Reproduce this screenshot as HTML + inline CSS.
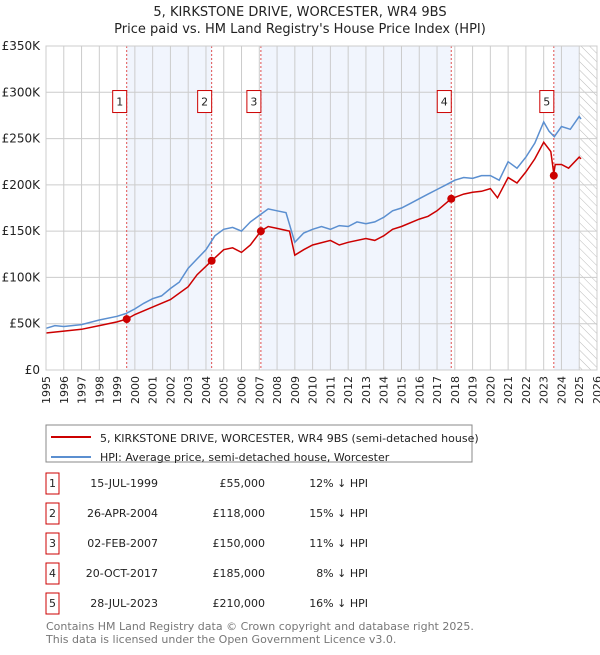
<!DOCTYPE html>
<html><head><meta charset="utf-8"><style>
body{margin:0;background:#fff;font-family:"Liberation Sans","DejaVu Sans",sans-serif;}
svg text{font-family:"DejaVu Sans","Liberation Sans",sans-serif;}
</style></head><body>
<svg id="chart" width="600" height="650" xmlns="http://www.w3.org/2000/svg">
<defs><pattern id="hatch" width="6" height="6" patternUnits="userSpaceOnUse" patternTransform="rotate(-45)"><line x1="0" y1="0" x2="0" y2="6" stroke="#bbb" stroke-width="1"/></pattern></defs>
<text x="300" y="16" text-anchor="middle" font-size="13" fill="#222">5, KIRKSTONE DRIVE, WORCESTER, WR4 9BS</text>
<text x="300" y="33" text-anchor="middle" font-size="13" fill="#222">Price paid vs. HM Land Registry's House Price Index (HPI)</text>
<g id="plot"></g>
<rect x="46" y="425" width="426" height="37" fill="#fff" stroke="#888"/>
<line x1="51" y1="437" x2="91" y2="437" stroke="#cc0000" stroke-width="2"/>
<text x="100" y="442" font-size="11" fill="#222">5, KIRKSTONE DRIVE, WORCESTER, WR4 9BS (semi-detached house)</text>
<line x1="51" y1="457" x2="91" y2="457" stroke="#5b8fd0" stroke-width="2"/>
<text x="100" y="461" font-size="11" fill="#222">HPI: Average price, semi-detached house, Worcester</text>
<g id="table"></g>
<text x="46" y="630" font-size="11" fill="#777">Contains HM Land Registry data © Crown copyright and database right 2025.</text>
<text x="46" y="643" font-size="11" fill="#777">This data is licensed under the Open Government Licence v3.0.</text>
</svg>
<script>
const hpiYears=[1995,1995.5,1996,1997,1998,1999,1999.5,2000,2000.5,2001,2001.5,2002,2002.5,2003,2003.5,2004,2004.5,2005,2005.5,2006,2006.5,2007,2007.5,2008,2008.5,2009,2009.5,2010,2010.5,2011,2011.5,2012,2012.5,2013,2013.5,2014,2014.5,2015,2015.5,2016,2016.5,2017,2017.5,2018,2018.5,2019,2019.5,2020,2020.5,2021,2021.5,2022,2022.5,2023,2023.3,2023.6,2024,2024.5,2025,2025.1];
const hpiValues=[45,48,47,49,54,58,61,66,72,77,80,88,95,110,120,130,145,152,154,150,160,167,174,172,170,138,148,152,155,152,156,155,160,158,160,165,172,175,180,185,190,195,200,205,208,207,210,210,205,225,218,230,245,268,258,252,263,260,274,271];
const propYears=[1995,1996,1997,1998,1999,1999.54,2000,2001,2002,2003,2003.5,2004.32,2005,2005.5,2006,2006.5,2007.09,2007.5,2008,2008.7,2009,2009.5,2010,2011,2011.5,2012,2013,2013.5,2014,2014.5,2015,2016,2016.5,2017,2017.8,2018.5,2019,2019.5,2020,2020.4,2021,2021.5,2022,2022.5,2023,2023.4,2023.57,2023.65,2024,2024.4,2025,2025.1];
const propValues=[40,42,44,48,52,55,60,68,76,90,103,118,130,132,127,135,150,155,153,150,124,130,135,140,135,138,142,140,145,152,155,163,166,172,185,190,192,193,196,186,208,202,214,228,246,236,212,222,222,218,230,228];
const saleLabels=["1","2","3","4","5"];
const saleYears=[1999.54,2004.32,2007.09,2017.8,2023.57];
const salePrices=[55,118,150,185,210];
const saleDates=["15-JUL-1999","26-APR-2004","02-FEB-2007","20-OCT-2017","28-JUL-2023"];
const salePriceText=["£55,000","£118,000","£150,000","£185,000","£210,000"];
const saleHpiText=["12% ↓ HPI","15% ↓ HPI","11% ↓ HPI","8% ↓ HPI","16% ↓ HPI"];
const yTicks=[0,50,100,150,200,250,300,350];
const yTickLabels=["£0","£50K","£100K","£150K","£200K","£250K","£300K","£350K"];
const NS="http://www.w3.org/2000/svg";
const X0=46,X1=597,Y0=370,Y1=46;
const x=yr=>X0+(yr-1995)/31*(X1-X0);
const y=v=>Y0-v/350*(Y0-Y1);
const plot=document.getElementById('plot');
function mk(tag,attrs,parent){const e=document.createElementNS(NS,tag);for(const k in attrs)e.setAttribute(k,attrs[k]);(parent||plot).appendChild(e);return e;}
const bands=[[saleYears[0],saleYears[1]],[saleYears[2],saleYears[3]],[saleYears[4],2025]];
bands.forEach(b=>{const r=mk('rect',{x:x(b[0]),y:Y1,width:x(b[1])-x(b[0]),height:Y0-Y1,fill:'#eef3fc',opacity:0.8});

});
const h=mk('rect',{x:x(2025),y:Y1,width:X1-x(2025),height:Y0-Y1,fill:'url(#hatch)'});


for(let yr=1995;yr<=2026;yr++){mk('line',{x1:x(yr),x2:x(yr),y1:Y1,y2:Y0,stroke:'#ccc','stroke-width':1});
const t=mk('text',{x:0,y:0,'font-size':11,fill:'#222','text-anchor':'end',transform:`translate(${x(yr)+4},${Y0+6}) rotate(-90)`});t.textContent=yr;

}
yTicks.forEach((v,i)=>{mk('line',{x1:X0,x2:X1,y1:y(v),y2:y(v),stroke:'#ccc','stroke-width':1});
const t=mk('text',{x:X0-6,y:y(v)+4,'font-size':12,fill:'#222','text-anchor':'end'});t.textContent=yTickLabels[i];

});
saleYears.forEach(s=>mk('line',{x1:x(s),x2:x(s),y1:Y1,y2:Y0,stroke:'#e05050','stroke-width':1,'stroke-dasharray':'2,2'}));
function path(xs,vs){return xs.map((a,i)=>(i?'L':'M')+x(a).toFixed(1)+','+y(vs[i]).toFixed(1)).join('');}
const hp=mk('path',{d:path(hpiYears,hpiValues),fill:'none',stroke:'#5b8fd0','stroke-width':1.5});


const pp=mk('path',{d:path(propYears,propValues),fill:'none',stroke:'#cc0000','stroke-width':1.5});


saleYears.forEach((s,i)=>{const c=mk('circle',{cx:x(s),cy:y(salePrices[i]),r:4,fill:'#cc0000'});


const bx=x(s)-8-6;const g=mk('rect',{x:bx,y:y(290)-11,width:14,height:22,fill:'#fff',stroke:'#cc0000'});


const t=mk('text',{x:bx+7,y:y(290)+4,'font-size':11,'text-anchor':'middle',fill:'#222'});t.textContent=saleLabels[i];

});
mk('rect',{x:X0,y:Y1,width:X1-X0,height:Y0-Y1,fill:'none',stroke:'#ccc'});
const tb=document.getElementById('table');
saleLabels.forEach((l,i)=>{const ry=483+i*30;
const b=mk('rect',{x:46,y:ry-10,width:13,height:21,fill:'#fff',stroke:'#cc0000'},tb);


const cols=[[52.5,l,'middle'],[158,saleDates[i],'end'],[265,salePriceText[i],'end'],[368,saleHpiText[i],'end']];
cols.forEach(c=>{const t=mk('text',{x:c[0],y:ry+4,'font-size':11,fill:'#222','text-anchor':c[2]},tb);t.textContent=c[1];

});});
</script>
</body></html>
